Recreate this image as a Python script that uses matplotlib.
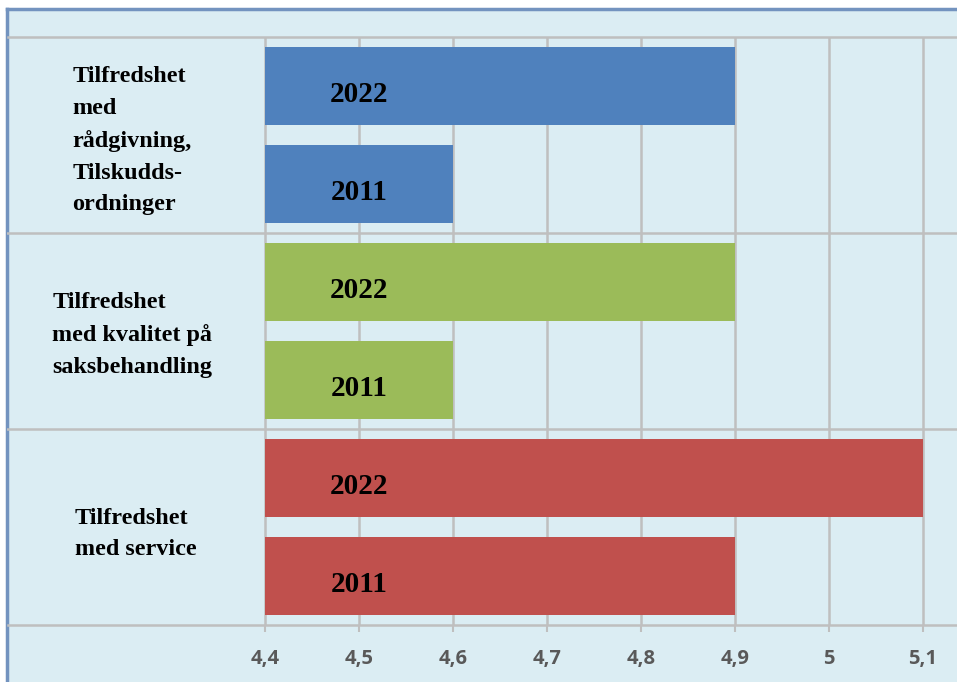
import numpy as np
import matplotlib
matplotlib.use("Agg")
import matplotlib.pyplot as plt
from matplotlib.patches import Rectangle

# data
categories = [
    "Tilfredshet\nmed\nrådgivning,\nTilskudds-\nordninger",
    "Tilfredshet\nmed kvalitet på\nsaksbehandling",
    "Tilfredshet\nmed service",
]
years = ["2022", "2011"]
values_2022 = [4.9, 4.9, 5.1]
values_2011 = [4.6, 4.6, 4.9]
bar_colors = ["#4F81BD", "#9BBB59", "#C0504D"]
tick_values = [4.4, 4.5, 4.6, 4.7, 4.8, 4.9, 5.0, 5.1]
tick_labels = ["4,4", "4,5", "4,6", "4,7", "4,8", "4,9", "5", "5,1"]
base = 4.4

bg = "#DBEDF3"
grid_col = "#BFBFBF"

W, H = 957, 682
fig = plt.figure(figsize=(W / 100, H / 100), dpi=100, facecolor="white")

# light blue chart area with blue border on top / left
bg_rect = Rectangle((7.5 / W, 0), 1 - 7.5 / W, (H - 8.5) / H,
                    transform=fig.transFigure, facecolor=bg,
                    edgecolor="none", zorder=-10)
fig.add_artist(bg_rect)
fig.add_artist(plt.Line2D([7.5 / W, 1], [(H - 8.5) / H] * 2, color="#7393BF",
                          lw=2.5, transform=fig.transFigure, zorder=-5))
fig.add_artist(plt.Line2D([7.5 / W] * 2, [0, (H - 8.5) / H], color="#7393BF",
                          lw=2.5, transform=fig.transFigure, zorder=-5))

ax_left, ax_right = 7.5 / W, 1.0
ax_top, ax_bot = 37 / H, 625 / H
ax = fig.add_axes([ax_left, 1 - ax_bot, ax_right - ax_left, ax_bot - ax_top])
ax.set_facecolor("none")
ax.set_zorder(1)

px_per_unit = 940.0
ax.set_xlim(base - (265 - 7.5) / px_per_unit, 5.1 + (957 - 923) / px_per_unit)
ax.set_ylim(3, 0)

bar_h = 0.4
for g in range(len(categories)):
    for j, vals in enumerate([values_2022, values_2011]):
        yc = g + 0.25 + 0.5 * j
        ax.barh(yc, vals[g] - base, left=base, height=bar_h,
                color=bar_colors[g], zorder=3)
        ax.text(4.5, yc + 0.045, years[j], ha="center", va="center",
                fontsize=21, fontweight="bold", family="Liberation Serif",
                color="black", zorder=4)

# category labels (left aligned in the label column)
label_x = [0.068, 0.047, 0.071]
label_dy = [0.03, 0.02, 0.035]
for g, lab in enumerate(categories):
    ax.text(label_x[g], g + 0.5 + label_dy[g], lab, transform=ax.get_yaxis_transform(),
            ha="left", va="center", fontsize=17.4, fontweight="bold",
            family="Liberation Serif", linespacing=1.66, color="black")

# grid
for t in tick_values:
    ax.axvline(t, color=grid_col, lw=1.8, zorder=0.5)
for yb in [1, 2]:
    ax.axhline(yb, color=grid_col, lw=1.8, zorder=0.5)

for side in ["left", "right"]:
    ax.spines[side].set_visible(False)
for side in ["top", "bottom"]:
    ax.spines[side].set_color(grid_col)
    ax.spines[side].set_linewidth(1.8)

ax.set_yticks([])
ax.set_xticks(tick_values)
ax.set_xticklabels(tick_labels, fontdict={"family": "Open Sans", "weight": "bold"})
ax.tick_params(axis="x", length=5, width=1.5, color=grid_col, pad=12,
               labelsize=14.5, labelcolor="#595959")

fig.savefig("out.png", dpi=100, facecolor="white")
